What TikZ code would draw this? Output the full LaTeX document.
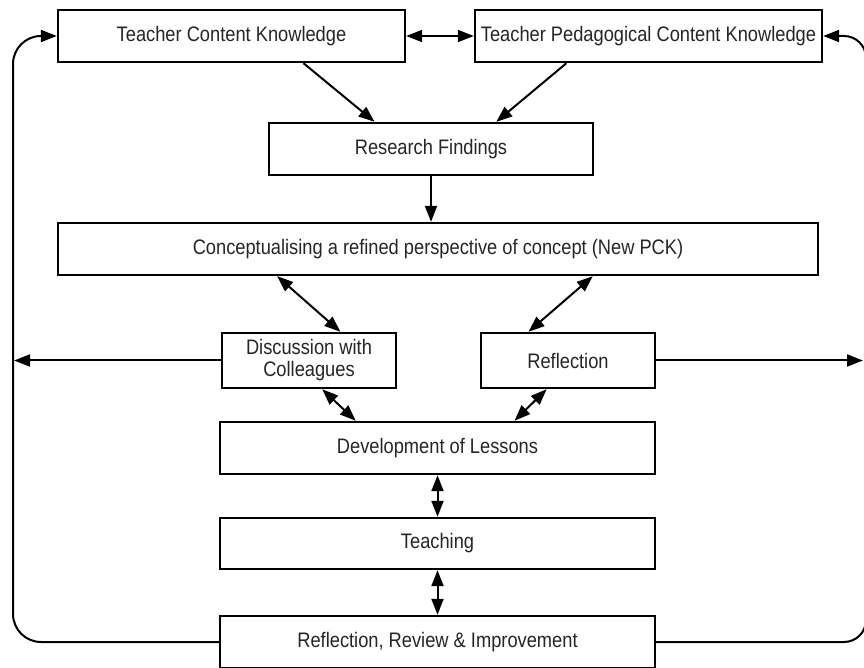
\documentclass[tikz,border=0pt]{standalone}
\usepackage{fontspec}
\setmainfont{Liberation Sans}[FakeStretch = 0.87]
\usetikzlibrary{arrows.meta,calc}

\begin{document}
\begin{tikzpicture}[x = 1pt, y = 1pt,
    box/.style = {rectangle, draw = black, fill = white, line width = 2.4pt,
      inner sep = 0pt, minimum height = 52pt, align = center, text = black!85,
      font = \fontsize{21}{22}\selectfont},
    link/.style = {line width = 2pt, -{Triangle[length = 16pt, width = 12pt]}},
    both/.style = {line width = 2pt,
      {Triangle[length = 16pt, width = 12pt]}-{Triangle[length = 16pt, width = 12pt]}}]

  \useasboundingbox (0,0) rectangle (864,667);

  \node[box, minimum width = 347pt] (tck) at (231.5,631) {Teacher Content Knowledge};
  \node[box, minimum width = 347pt] (tpck) at (648.5,631) {Teacher Pedagogical Content Knowledge};
  \node[box, minimum width = 324pt] (rf) at (431,518) {Research Findings};
  \node[box, minimum width = 760pt] (concept) at (438,418) {Conceptualising a refined perspective of concept (New PCK)};
  \node[box, minimum width = 174pt, minimum height = 55pt] (disc) at (309,306.5) {Discussion with\\Colleagues};
  \node[box, minimum width = 174pt, minimum height = 55pt] (refl) at (568,306.5) {Reflection};
  \node[box, minimum width = 435pt] (dev) at (437.5,219) {Development of Lessons};
  \node[box, minimum width = 435pt, minimum height = 51pt] (teach) at (437.5,123.5) {Teaching};
  \node[box, minimum width = 435pt] (rri) at (437.5,25) {Reflection, Review \& Improvement};

  % knowledge into findings
  \draw[both] (tck.east) -- (tpck.west);
  \draw[link] ($(tck.south west)!0.706!(tck.south east)$) -- ($(rf.north west)!0.327!(rf.north east)$);
  \draw[link] ($(tpck.south west)!0.265!(tpck.south east)$) -- ($(rf.north west)!0.70!(rf.north east)$);
  \draw[link] (rf.south) -- (rf.south |- concept.north);

  % middle part
  \draw[both] ($(concept.south west)!0.289!(concept.south east)$) -- ($(disc.north west)!0.678!(disc.north east)$);
  \draw[both] ($(concept.south west)!0.703!(concept.south east)$) -- ($(refl.north west)!0.276!(refl.north east)$);
  \draw[both] ($(disc.south west)!0.575!(disc.south east)$) -- ($(dev.north west)!0.313!(dev.north east)$);
  \draw[both] ($(refl.south west)!0.379!(refl.south east)$) -- ($(dev.north west)!0.676!(dev.north east)$);
  \draw[both] (dev.south) -- (teach.north);
  \draw[both] (teach.south) -- (rri.north);

  % feedback loops
  \coordinate (lside) at (13,331);
  \coordinate (rside) at (866,331);
  \draw[link, rounded corners = 28pt] (rri.west) -| (lside) |- (tck.west);
  \draw[link, rounded corners = 22pt] (rri.east) -| (rside) |- (tpck.east);
  \draw[link, shorten > = 1pt] (disc.west) -- (disc.west -| lside);
  \draw[link, shorten > = 3pt] (refl.east) -- (refl.east -| rside);
\end{tikzpicture}
\end{document}
